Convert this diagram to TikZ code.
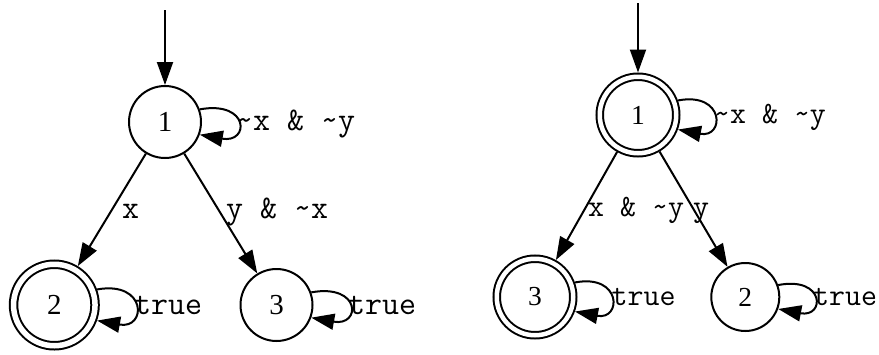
\documentclass[tikz,border=0pt]{standalone}
\usepackage{fontspec}
\setmainfont{Liberation Serif}
\usetikzlibrary{arrows.meta}
\newcommand{\tild}{\textasciitilde}

\begin{document}
\begin{tikzpicture}[x=1pt, y=-1pt,
		trans/.style={draw=black, line width=2pt, -{Triangle[length=23pt,width=16pt]}},
		stA/.style={circle, draw=black, line width=2pt, inner sep=0pt, minimum size=72pt, outer sep=1pt, font=\fontsize{29}{31}\selectfont},
		accA/.style={stA, double, double distance=5.5pt, minimum size=81.5pt, outer sep=4.75pt},
		stB/.style={circle, draw=black, line width=2pt, inner sep=0pt, minimum size=68pt, outer sep=1pt, font=\fontsize{27.5}{30}\selectfont},
		accB/.style={stB, double, double distance=4.5pt, minimum size=76.5pt, outer sep=4.25pt},
		lblA/.style={inner sep=0pt, anchor=base west, font=\ttfamily\fontsize{33}{35}\selectfont},
		lblB/.style={inner sep=0pt, anchor=base west, font=\ttfamily\fontsize{31}{33}\selectfont}]
		\useasboundingbox (0,0) rectangle (879,354);

		% left automaton
		\coordinate (sa) at (165,10);
		\node[stA] (a1) at (165,122) {1};
		\node[accA] (a2) at (54.3,305) {2};
		\node[stA] (a3) at (276.5,305) {3};
		\draw[trans] (sa) -- (a1);
		\draw[trans] (a1) -- (a2);
		\draw[trans] (a1) -- (a3);
		\draw[trans] (a1.20) .. controls +(50,-9) and +(50,9) .. (a1.-20);
		\draw[trans] (a2.20) .. controls +(50,-9) and +(50,9) .. (a2.-20);
		\draw[trans] (a3.20) .. controls +(50,-9) and +(50,9) .. (a3.-20);
		\node[lblA] (la1) at (236,130) {\tild x \& \tild y};
		\node[lblA, anchor=base] (la12) at (130.7,218) {x};
		\node[lblA] (la13) at (226,218) {y \& \tild x};
		\node[lblA] (la2) at (134,314) {true};
		\node[lblA] (la3) at (348,314) {true};

		% right automaton
		\coordinate (sb) at (638,3);
		\node[accB] (b1) at (638,115) {1};
		\node[accB] (b3) at (535,297) {3};
		\node[stB] (b2) at (745.3,297) {2};
		\draw[trans] (sb) -- (b1);
		\draw[trans] (b1) -- (b3);
		\draw[trans] (b1) -- (b2);
		\draw[trans] (b1.20) .. controls +(47,-9) and +(47,9) .. (b1.-20);
		\draw[trans] (b3.20) .. controls +(47,-9) and +(47,9) .. (b3.-20);
		\draw[trans] (b2.20) .. controls +(47,-9) and +(47,9) .. (b2.-20);
		\node[lblB] (lb1) at (714,123.3) {\tild x \& \tild y};
		\node[lblB] (lb13) at (588,216) {x \& \tild y};
		\node[lblB] (lb12) at (693,216) {y};
		\node[lblB] (lb3) at (611.5,305) {true};
		\node[lblB] (lb2) at (813,305) {true};
	\end{tikzpicture}
\end{document}
